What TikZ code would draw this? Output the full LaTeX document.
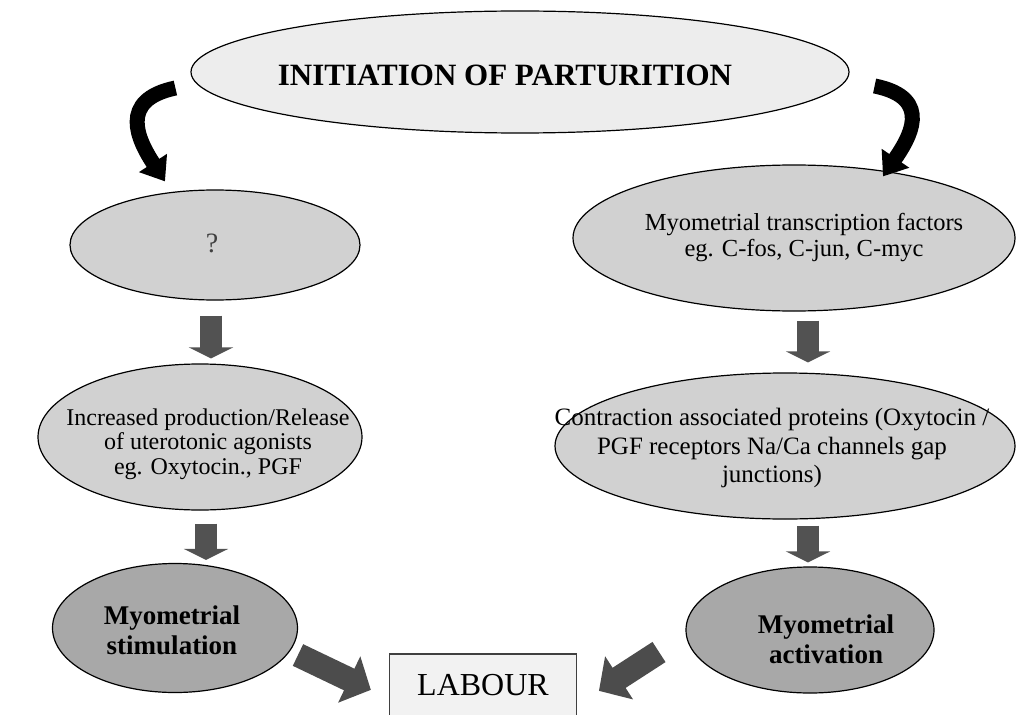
\documentclass[tikz,border=0pt]{standalone}
\usepackage{fontspec}
\setmainfont{Liberation Serif}
\usetikzlibrary{arrows.meta,shapes.geometric,calc}
\begin{document}
\begin{tikzpicture}[x=1pt,y=-1pt,
  oval/.style={ellipse, draw=black, line width=1.2pt, inner sep=0pt},
  light/.style={oval, fill=black!7},
  mid/.style={oval, fill=black!18},
  dark/.style={oval, fill=black!34},
  txt/.style={align=center, inner sep=0pt, font=\fontsize{24.5}{26}\selectfont},
  boldtxt/.style={align=center, inner sep=0pt, font=\fontsize{27}{30}\selectfont\bfseries},
  downarrow/.style={draw=black!68, line width=22pt, -{Triangle[width=44pt,length=11pt]}},
  diagarrow/.style={draw=black!70, line width=24pt, -{Triangle[width=50pt,length=24pt]}},
  curvedarrow/.style={draw=black, line width=15pt, -{Triangle[width=32pt,length=22pt]}}
]
\fill[white] (0,0) rectangle (1016,714);
\useasboundingbox (0,0) rectangle (1016,714);

% nodes
\node[light, minimum width=658pt, minimum height=122pt] (init) at (520,72) {};
\node[inner sep=0pt, font=\fontsize{31}{33}\selectfont\bfseries] (initT) at (505,75) {INITIATION OF PARTURITION};

\node[mid, minimum width=290pt, minimum height=110pt] (q) at (215,245) {};
\node[txt, font=\fontsize{28}{30}\selectfont, text=black!75] (qT) at (212,243) {?};

\node[mid, minimum width=442pt, minimum height=146pt] (mtf) at (794,238) {};
\node[txt] (mtfT) at (804,238) {Myometrial transcription factors\\eg. C-fos, C-jun, C-myc};

\node[mid, minimum width=324pt, minimum height=146pt] (inc) at (200,437) {};
\node[txt, font=\fontsize{24}{24.5}\selectfont] (incT) at (208,444) {Increased production/Release\\of uterotonic agonists\\eg. Oxytocin., PGF};

\node[mid, minimum width=460pt, minimum height=146pt] (cap) at (785,446) {};
\node[txt, font=\fontsize{25}{28.5}\selectfont] (capT) at (772,448) {Contraction associated proteins (Oxytocin /\\PGF receptors Na/Ca channels gap\\junctions)};

\node[dark, minimum width=245pt, minimum height=129pt] (stim) at (175,628) {};
\node[boldtxt] (stimT) at (172,630) {Myometrial\\stimulation};

\node[dark, minimum width=248pt, minimum height=126pt] (act) at (810,630) {};
\node[boldtxt] (actT) at (826,639) {Myometrial\\activation};

\node[draw=black!75, line width=1.2pt, fill=black!5, minimum width=187pt, minimum height=62pt, inner sep=0pt,
      font=\fontsize{32}{34}\selectfont] (labour) at (483,685) {LABOUR};

% curved arrows
\coordinate (ltail) at ($(init.west)+(-15,16)$);
\coordinate (ltip) at ($(q.north)+(-50,-8)$);
\draw[curvedarrow] (ltail) .. controls (118,100) and (138,140) .. (ltip);

\coordinate (rtail) at ($(init.east)+(25,14)$);
\coordinate (rtip) at ($(mtf.north)+(89,12)$);
\draw[curvedarrow] (rtail) .. controls (935,98) and (908,140) .. (rtip);

% down arrows
\draw[downarrow, shorten <=15pt, shorten >=5pt] ([xshift=-4pt]q.south) -- ([xshift=-4pt]q.south |- inc.north);
\draw[downarrow, shorten <=13pt, shorten >=3pt] ([xshift=6pt]inc.south) -- ([xshift=6pt]inc.south |- stim.north);
\draw[downarrow, shorten <=9pt, shorten >=10pt] ([xshift=14pt]mtf.south) -- ([xshift=14pt]mtf.south |- cap.north);
\draw[downarrow, shorten <=6pt, shorten >=4pt] ([xshift=23pt]cap.south) -- ([xshift=23pt]cap.south |- act.north);

% diagonal arrows
\coordinate (ldtail) at (298,655);
\draw[diagarrow, shorten >=20pt] (ldtail) -- ([yshift=-13.5pt]labour.west);
\coordinate (rdtail) at (659,652);
\draw[diagarrow, shorten >=26pt] (rdtail) -- ([yshift=-20pt]labour.east);
\end{tikzpicture}
\end{document}
